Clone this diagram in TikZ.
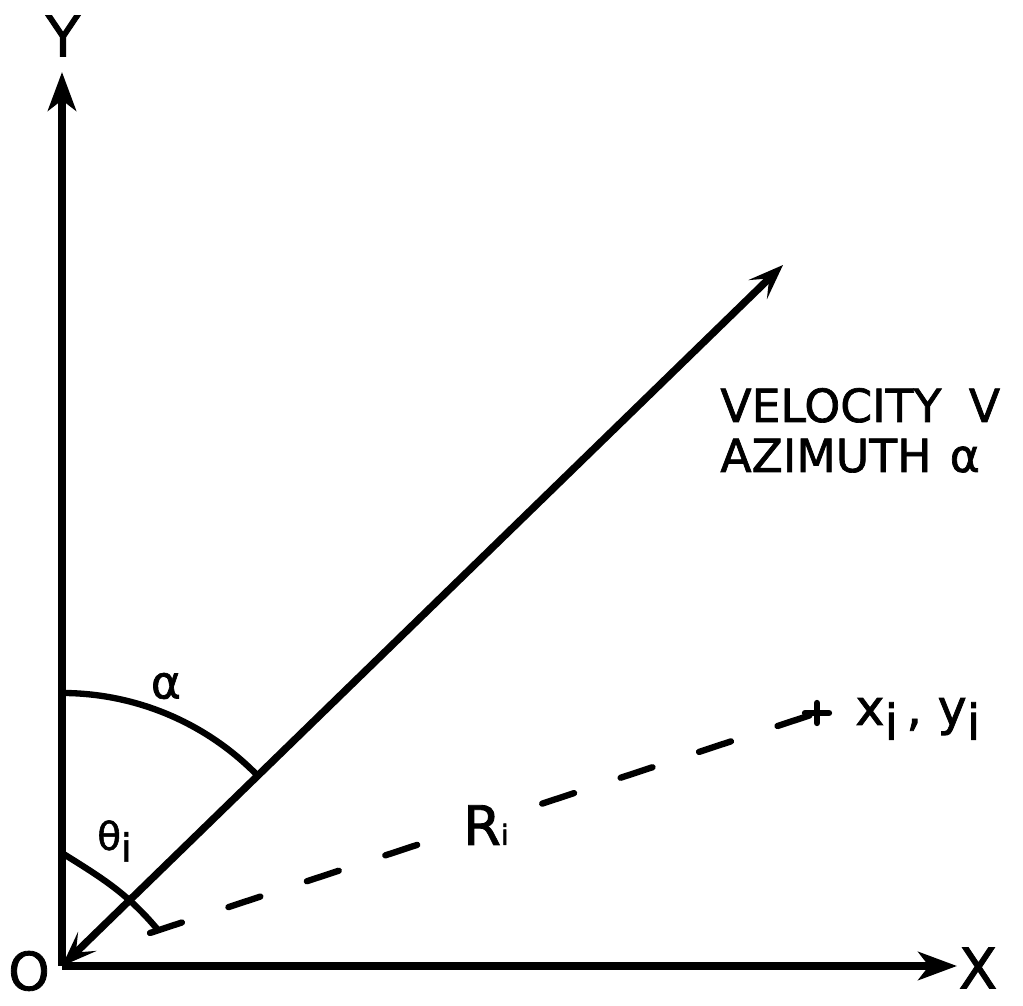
\documentclass[tikz,border=0pt]{standalone}
\usepackage{fontspec}
\setmainfont{DejaVu Sans}[FakeBold=1.5]
\usetikzlibrary{arrows.meta}

\newcommand{\lowi}{\raisebox{-0.3em}{i}}

\tikzset{
  axisline/.style={line width=4.2pt, -{Stealth[length=22pt,width=16pt,inset=6pt]}},
  vecline/.style={line width=4.2pt, {Stealth[length=20pt,width=15pt,inset=9pt]}-{Stealth[length=20pt,width=15pt,inset=9pt]}},
  angarc/.style={line width=3.6pt, line cap=round},
  dashline/.style={line width=3.6pt, line cap=round, dash pattern=on 19.1pt off 27.9pt},
  biglbl/.style={font=\fontsize{32}{32}\selectfont, inner sep=0pt},
  txtlbl/.style={font=\fontsize{26}{29}\selectfont, inner sep=0pt, anchor=base west},
}

\begin{document}
\begin{tikzpicture}[x=0.2mm, y=0.2mm]
\useasboundingbox (-62,-40) rectangle (961,966);

% Axes
\coordinate (O) at (0,0);
\coordinate (Ytip) at (0,894);
\coordinate (Xtip) at (895,0);
\draw[axisline] (O) -- (Ytip);
\draw[axisline] (O) -- (Xtip);
\node[biglbl] (ylab) at (1,930) {Y};
\node[biglbl] (xlab) at (916,-2) {X};
\node[biglbl, font=\fontsize{30}{30}\selectfont] (olab) at (-33,-5) {O};

% Velocity vector
\coordinate (V) at (721,701);
\draw[vecline] (O) -- (V);

% Azimuth arc
\draw[angarc] (0,273) arc[start angle=90, end angle=44.2, radius=273];
\node[font=\fontsize{26}{26}\selectfont, inner sep=0pt] (alab) at (104,280) {α};

% Position vector R_i
\coordinate (T) at (88,33);
\coordinate (P) at (755,253);
\draw[dashline] (T) -- (P);
\draw[angarc] (P) ++(-12,0) -- ++(24,0) (P) ++(0,-10) -- ++(0,20);
\draw[angarc] (0,113) to[out=-32, in=130] (96,36);
\node[font=\fontsize{22}{22}\selectfont, inner sep=0pt, anchor=base west] (thlab) at (35,116) {θ\lowi};
\node[font=\fontsize{31}{31}\selectfont, fill=white, inner sep=5pt, anchor=base west] (rlab) at (392,121) {R{\fontsize{16}{16}\selectfont i}};
\node[font=\fontsize{28}{28}\selectfont, inner sep=0pt, anchor=base west] (plab) at (793,241) {x\lowi\,, y\lowi};

% Text
\node[txtlbl] (vel) at (658,544) {VELOCITY\hspace{0.6em}V};
\node[txtlbl] (azi) at (658,494) {AZIMUTH\hspace{0.4em}α};

\end{tikzpicture}
\end{document}
